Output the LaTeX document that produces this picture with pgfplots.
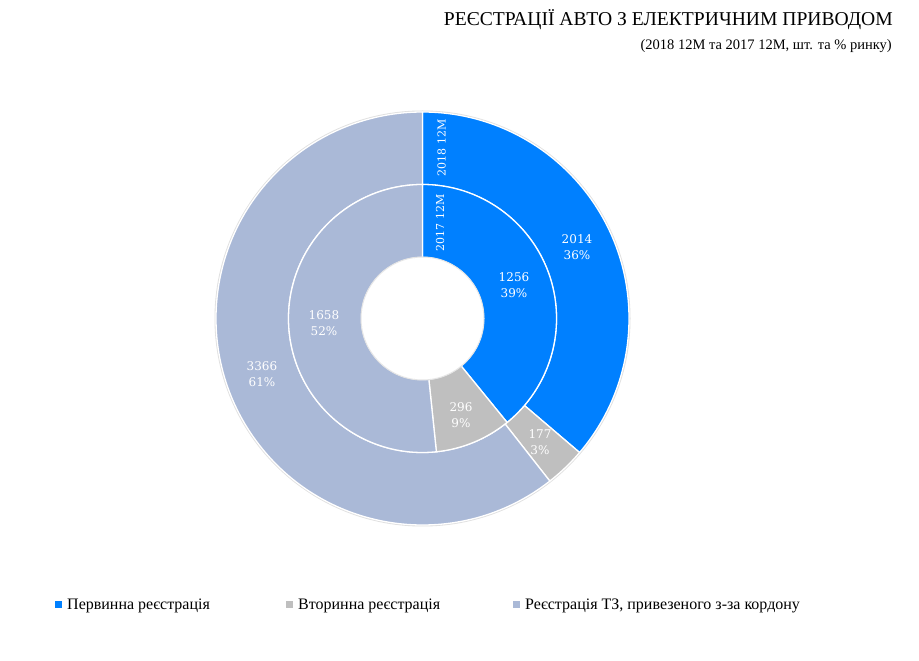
\documentclass[border=0pt]{standalone}
\usepackage{pgfplots}
\pgfplotsset{compat=1.18}
\usepackage{pgfplotstable}
\usepackage{fontspec}
\setmainfont{Liberation Serif}
\newfontfamily\lblfont{DejaVu Serif}

\definecolor{prim}{HTML}{0080FF}
\definecolor{sec}{HTML}{BFBFBF}
\definecolor{imp}{HTML}{AAB9D7}

% 2018 12M (outer ring)
\pgfplotstableread{
value pct lx  ly  color
2014  36  577 414 prim
177   3   540 219 sec
3366  61  262 287 imp
}\outerring

% 2017 12M (inner ring)
\pgfplotstableread{
value pct lx  ly  color
1256  39  514 376 prim
296   9   461 246 sec
1658  52  324 338 imp
}\innerring

\def\cx{422.5}
\def\cy{342.5}

% #1 table, #2 inner radius, #3 outer radius
\newcommand\drawring[3]{%
  \pgfplotstablegetrowsof{#1}\pgfmathtruncatemacro\lastrow{\pgfplotsretval-1}%
  \def\tot{0}%
  \pgfplotsforeachungrouped \i in {0,...,\lastrow}{%
    \pgfplotstablegetelem{\i}{value}\of#1%
    \pgfmathsetmacro\tot{\tot+\pgfplotsretval}}%
  \def\startang{90}%
  \pgfplotsforeachungrouped \i in {0,...,\lastrow}{%
    \pgfplotstablegetelem{\i}{value}\of#1\let\segval\pgfplotsretval
    \pgfplotstablegetelem{\i}{color}\of#1\let\segcol\pgfplotsretval
    \pgfmathsetmacro\endang{\startang-\segval/\tot*360}%
    \fill[fill=\segcol, draw=white, line width=1.3bp, line join=round]
      ([shift={(\startang:#3bp)}]axis cs:\cx,\cy)
      arc[start angle=\startang, end angle=\endang, radius=#3bp]
      -- ([shift={(\endang:#2bp)}]axis cs:\cx,\cy)
      arc[start angle=\endang, end angle=\startang, radius=#2bp] -- cycle;
    \let\startang\endang
  }}

\newcommand\ringlabels[1]{%
  \pgfplotstablegetrowsof{#1}\pgfmathtruncatemacro\lastrow{\pgfplotsretval-1}%
  \pgfplotsforeachungrouped \i in {0,...,\lastrow}{%
    \pgfplotstablegetelem{\i}{value}\of#1\let\segval\pgfplotsretval
    \pgfplotstablegetelem{\i}{pct}\of#1\let\segpct\pgfplotsretval
    \pgfplotstablegetelem{\i}{lx}\of#1\let\segx\pgfplotsretval
    \pgfplotstablegetelem{\i}{ly}\of#1\let\segy\pgfplotsretval
    \node[text=white, align=center, font=\lblfont\fontsize{12bp}{16bp}\selectfont]
      at (axis cs:\segx,\segy) {\segval\\\segpct\%};
  }}

\begin{document}
\begin{tikzpicture}
\begin{axis}[
  scale only axis, width=919bp, height=661bp,
  xmin=0, xmax=919, ymin=0, ymax=661,
  hide axis, clip=false]
\pgfplotsextra{
  \path (axis cs:0,0) (axis cs:919,661);
  \draw[black!12, line width=2bp] (axis cs:\cx,\cy) circle[radius=207bp];
  \drawring{\outerring}{134}{206.5}
  \drawring{\innerring}{61}{134}
  \draw[black!10, line width=1bp] (axis cs:\cx,\cy) circle[radius=61.5bp];
  \ringlabels{\outerring}
  \ringlabels{\innerring}
  \node[rotate=90, text=white, font=\lblfont\fontsize{11bp}{13bp}\selectfont]
    at (axis cs:441.5,513) {2018 12M};
  \node[rotate=90, text=white, font=\lblfont\fontsize{11bp}{13bp}\selectfont]
    at (axis cs:440,438) {2017 12M};
  % title
  \node[anchor=base east, inner sep=0pt, font=\fontsize{19.6bp}{24bp}\selectfont]
    at (axis cs:893,635) {РЕЄСТРАЦІЇ АВТО З ЕЛЕКТРИЧНИМ ПРИВОДОМ};
  \node[anchor=base east, inner sep=0pt, font=\fontsize{14.5bp}{17bp}\selectfont]
    at (axis cs:892,611) {(2018 12М та 2017 12М, шт. та \% ринку)};
  % legend
  \node[anchor=base west, inner sep=0pt, font=\fontsize{16bp}{19bp}\selectfont] at (axis cs:55,51)
    {\textcolor{prim}{\raisebox{1.5bp}{\rule{7bp}{7bp}}}\hspace{5bp}Первинна реєстрація};
  \node[anchor=base west, inner sep=0pt, font=\fontsize{16bp}{19bp}\selectfont] at (axis cs:286,51)
    {\textcolor{sec}{\raisebox{1.5bp}{\rule{7bp}{7bp}}}\hspace{5bp}Вторинна реєстрація};
  \node[anchor=base west, inner sep=0pt, font=\fontsize{16bp}{19bp}\selectfont] at (axis cs:513,51)
    {\textcolor{imp}{\raisebox{1.5bp}{\rule{7bp}{7bp}}}\hspace{5bp}Реєстрація ТЗ, привезеного з-за кордону};
}
\end{axis}
\end{tikzpicture}
\end{document}
